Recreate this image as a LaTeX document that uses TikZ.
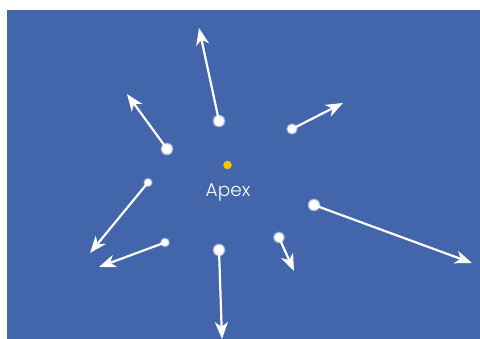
\documentclass[tikz,border=0pt]{standalone}
\usepackage{fontspec}
\setmainfont{Poppins Light}
\usetikzlibrary{arrows.meta}
\definecolor{bg}{RGB}{67,101,172}
\definecolor{apexyellow}{RGB}{247,200,0}
\tikzset{
  arr/.style={draw=white, line width=2.2pt, -{Stealth[length=17pt,width=13pt,inset=5pt]}},
  halo/.style={circle, fill=white, fill opacity=0.3, inner sep=0pt, minimum size=#1},
  glow/.style={circle, fill=white, fill opacity=0.6, inner sep=0pt, minimum size=#1},
  core/.style={circle, fill=white, inner sep=0pt, minimum size=#1},
}
\newcommand{\starat}[3]{%
  \node[halo=#2pt+3pt] at (#1) {};
  \node[glow=#2pt+1.5pt] at (#1) {};
  \node[core=#2pt] (#3) at (#1) {};
}
\begin{document}
\begin{tikzpicture}[x=1pt,y=-1pt]
\useasboundingbox (0,0) rectangle (480,339);
\fill[bg] (7,10) rectangle (480,339);
% tips
\coordinate (t1) at (199,28);
\coordinate (t2) at (127,94);
\coordinate (t3) at (343,103);
\coordinate (t4) at (90,253);
\coordinate (t5) at (99,267);
\coordinate (t6) at (222,339);
\coordinate (t7) at (294,271);
\coordinate (t8) at (472,263);
% star positions
\coordinate (d1) at (219,121);
\coordinate (d2) at (167,149);
\coordinate (d3) at (292,129);
\coordinate (d4) at (148,182.5);
\coordinate (d5) at (165,242.5);
\coordinate (d6) at (219,250);
\coordinate (d7) at (279,237.5);
\coordinate (d8) at (314,205);
% arrows
\foreach \i in {1,...,8} {\draw[arr] (d\i) -- (t\i);}
% stars
\starat{d1}{10}{s1}
\starat{d2}{10}{s2}
\starat{d3}{8.5}{s3}
\starat{d4}{6.5}{s4}
\starat{d5}{7}{s5}
\starat{d6}{10}{s6}
\starat{d7}{9}{s7}
\starat{d8}{10}{s8}
% apex
\node[circle, fill=apexyellow, inner sep=0pt, minimum size=8.5pt] (apex) at (227.5,165) {};
\node[text=white, font=\fontsize{18.5}{22}\selectfont, inner sep=0pt, anchor=base] (apexlabel) at (228,197) {Apex};
\end{tikzpicture}
\end{document}
